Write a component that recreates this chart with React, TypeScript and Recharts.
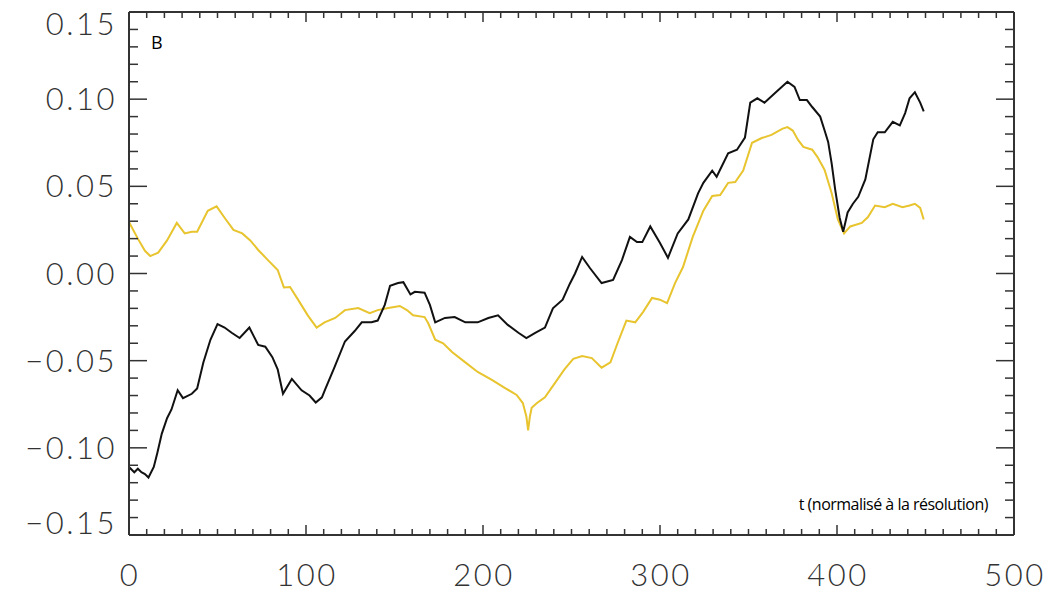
import { Line, LineChart, XAxis, YAxis } from "recharts";

// black curve
const blackT = [0, 3, 5, 7, 9, 11, 14, 16, 18.5, 21.5, 24, 27.5, 30.5, 35.5, 38.5, 42, 46, 50, 54, 58, 62.5, 68, 73, 77, 81, 84, 87, 92, 97.5, 102, 105.5, 109, 111, 116, 122, 127.5, 131.5, 137, 140.5, 144.5, 147.5, 152, 155, 159, 161.5, 167, 170, 173, 178.5, 184, 190, 197, 203, 208.5, 214, 220, 224.5, 229.5, 235, 239.5, 245, 249, 252, 256, 260.5, 267, 273.5, 278.5, 283, 287, 290, 294.5, 300, 304.5, 310, 316, 321.5, 324.5, 329.5, 332, 338.5, 343.5, 348, 351, 355, 359, 365, 372, 376, 379, 383, 386, 390.5, 393, 395, 397, 399, 401.5, 403.5, 406, 409, 412, 416, 420.5, 423, 427, 431.5, 435.5, 438.5, 441, 444, 447, 449];
const blackV = [-0.111, -0.114, -0.112, -0.114, -0.115, -0.117, -0.111, -0.103, -0.092, -0.083, -0.078, -0.067, -0.0715, -0.069, -0.066, -0.051, -0.038, -0.029, -0.031, -0.034, -0.037, -0.031, -0.041, -0.042, -0.048, -0.055, -0.069, -0.0605, -0.067, -0.07, -0.074, -0.071, -0.066, -0.054, -0.039, -0.033, -0.028, -0.028, -0.027, -0.018, -0.007, -0.0055, -0.005, -0.012, -0.0105, -0.011, -0.018, -0.028, -0.0255, -0.025, -0.028, -0.028, -0.0255, -0.024, -0.0295, -0.034, -0.037, -0.034, -0.031, -0.02, -0.015, -0.006, 0.0, 0.0095, 0.003, -0.0055, -0.0037, 0.0077, 0.021, 0.018, 0.018, 0.027, 0.0175, 0.009, 0.023, 0.031, 0.046, 0.052, 0.059, 0.0555, 0.069, 0.071, 0.078, 0.098, 0.1005, 0.098, 0.1035, 0.11, 0.107, 0.0995, 0.0995, 0.0955, 0.09, 0.082, 0.0755, 0.063, 0.048, 0.032, 0.024, 0.035, 0.04, 0.044, 0.054, 0.077, 0.081, 0.081, 0.087, 0.085, 0.092, 0.1005, 0.104, 0.098, 0.093];

// yellow curve
const yellowT = [0, 5, 9, 12, 16.5, 21.5, 27, 31.5, 35.5, 38.5, 44.5, 49.5, 54, 59, 64, 68.5, 73, 78.5, 84, 87.5, 91, 95.5, 101, 106, 110.5, 116.5, 122, 129.5, 136, 140.5, 146.5, 153, 157, 160.5, 167, 169, 173, 177.5, 182.5, 190, 197, 205, 212.5, 219, 222.5, 224.5, 225.5, 226.5, 227.5, 230.5, 235, 240.5, 246, 251, 256, 261.5, 267, 272, 276, 281, 286, 290.5, 295.5, 300, 304, 308.5, 313, 318.5, 324.5, 329.5, 334, 338.5, 342.5, 347, 352, 357.5, 363, 369, 372, 375, 378, 381, 386, 389, 393, 397, 400.5, 404, 407.5, 414, 417.5, 421.5, 427, 431.5, 437, 441, 444, 447, 449];
const yellowV = [0.0295, 0.02, 0.013, 0.01, 0.012, 0.019, 0.029, 0.023, 0.024, 0.024, 0.036, 0.0385, 0.032, 0.025, 0.023, 0.019, 0.0135, 0.0077, 0.002, -0.008, -0.0077, -0.015, -0.024, -0.031, -0.028, -0.0255, -0.021, -0.0198, -0.0227, -0.021, -0.0198, -0.0186, -0.021, -0.024, -0.025, -0.0284, -0.038, -0.04, -0.045, -0.051, -0.0565, -0.061, -0.0657, -0.0697, -0.0743, -0.082, -0.09, -0.082, -0.077, -0.0743, -0.071, -0.063, -0.055, -0.049, -0.0473, -0.0485, -0.054, -0.051, -0.04, -0.027, -0.028, -0.022, -0.014, -0.015, -0.017, -0.0055, 0.0037, 0.021, 0.036, 0.0445, 0.045, 0.052, 0.0525, 0.059, 0.075, 0.0777, 0.0795, 0.083, 0.084, 0.082, 0.0766, 0.0726, 0.071, 0.0668, 0.0594, 0.046, 0.031, 0.023, 0.027, 0.029, 0.0324, 0.039, 0.038, 0.04, 0.038, 0.039, 0.04, 0.0376, 0.031];

const xMajor = [0, 100, 200, 300, 400, 500];
const yMajor = [-0.15, -0.1, -0.05, 0, 0.05, 0.1, 0.15];
const xTicks = Array.from({ length: 51 }, (_, i) => i * 10);
const yTicks = Array.from({ length: 31 }, (_, i) => Math.round((-0.15 + i * 0.01) * 1000) / 1000);

const blackData = blackT.map((t, i) => ({ t, v: blackV[i] }));
const yellowData = yellowT.map((t, i) => ({ t, v: yellowV[i] }));

const AXIS = "#333";
const labelFont = { fontFamily: "Lato, 'DejaVu Sans', sans-serif", fontWeight: 300, fontSize: 31, fill: "#333", letterSpacing: 2.5 };

const isMajorX = (v: number) => xMajor.includes(v);
const isMajorY = (v: number) => yMajor.some((m) => Math.abs(m - v) < 1e-6);
const fmtY = (v: number) => (v < 0 ? "\u2212" : "") + Math.abs(v).toFixed(2);

const BottomTick = (p: any) => {
  const v = p.payload.value;
  const major = isMajorX(v);
  return (
    <g>
      <line x1={p.x} y1={p.y} x2={p.x} y2={p.y - (major ? 10 : 6)} stroke={AXIS} strokeWidth={1.5} />
      {major && (
        <text x={p.x + 1} y={p.y + 51} textAnchor="middle" {...labelFont}>
          {v}
        </text>
      )}
    </g>
  );
};

const TopTick = (p: any) => {
  const major = isMajorX(p.payload.value);
  return <line x1={p.x} y1={p.y} x2={p.x} y2={p.y + (major ? 10 : 6)} stroke={AXIS} strokeWidth={1.5} />;
};

const LeftTick = (p: any) => {
  const v = p.payload.value;
  const major = isMajorY(v);
  const shift = v > 0.149 ? 12 : v < -0.149 ? -12 : 0;
  return (
    <g>
      <line x1={p.x} y1={p.y} x2={p.x + (major ? 18 : 9)} y2={p.y} stroke={AXIS} strokeWidth={1.5} />
      {major && (
        <text x={p.x - 12} y={p.y + shift + 11} textAnchor="end" {...labelFont}>
          {fmtY(v)}
        </text>
      )}
    </g>
  );
};

const RightTick = (p: any) => {
  const major = isMajorY(p.payload.value);
  return <line x1={p.x} y1={p.y} x2={p.x - (major ? 18 : 9)} y2={p.y} stroke={AXIS} strokeWidth={1.5} />;
};

export default function App() {
  return (
    <div style={{ position: "absolute", left: 0, top: 0, width: 1049, height: 592, background: "#fff" }}>
      <LineChart width={1049} height={592} margin={{ top: 10, right: 33, bottom: 0, left: 0 }}>
        <XAxis
          xAxisId={0}
          dataKey="t"
          type="number"
          domain={[0, 500]}
          ticks={xTicks}
          interval={0}
          height={57}
          tickSize={0}
          tickMargin={0}
          tick={BottomTick}
          axisLine={{ stroke: AXIS, strokeWidth: 2 }}
          allowDataOverflow
        />
        <XAxis
          xAxisId="top"
          orientation="top"
          dataKey="t"
          type="number"
          domain={[0, 500]}
          ticks={xTicks}
          interval={0}
          height={2}
          tickSize={0}
          tickMargin={0}
          tick={TopTick}
          axisLine={{ stroke: AXIS, strokeWidth: 2 }}
          allowDataOverflow
        />
        <YAxis
          yAxisId={0}
          type="number"
          domain={[-0.15, 0.15]}
          ticks={yTicks}
          interval={0}
          width={129}
          tickSize={0}
          tickMargin={0}
          tick={LeftTick}
          axisLine={{ stroke: AXIS, strokeWidth: 2 }}
          allowDataOverflow
        />
        <YAxis
          yAxisId="right"
          orientation="right"
          type="number"
          domain={[-0.15, 0.15]}
          ticks={yTicks}
          interval={0}
          width={2}
          tickSize={0}
          tickMargin={0}
          tick={RightTick}
          axisLine={{ stroke: AXIS, strokeWidth: 2 }}
          allowDataOverflow
        />
        <Line data={yellowData} dataKey="v" type="linear" stroke="#e8c42e" strokeWidth={2} dot={false} isAnimationActive={false} />
        <Line data={blackData} dataKey="v" type="linear" stroke="#111" strokeWidth={2} dot={false} isAnimationActive={false} />
      </LineChart>
      <div style={{ position: "absolute", left: 151, top: 30, fontFamily: "'Open Sans', sans-serif", fontSize: 18, color: "#000" }}>B</div>
      <div style={{ position: "absolute", right: 1049 - 988, top: 493, fontFamily: "'Open Sans', sans-serif", fontSize: 16, letterSpacing: -0.5, color: "#000", whiteSpace: "nowrap" }}>
        t (normalisé à la résolution)
      </div>
    </div>
  );
}
